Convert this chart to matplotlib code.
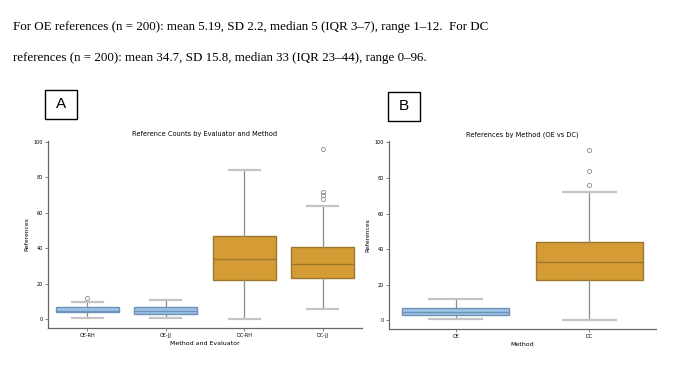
import matplotlib.pyplot as plt
from matplotlib.patches import Rectangle

# Panel A: references by evaluator and method
groups_a = ["OE-RH", "OE-JJ", "DC-RH", "DC-JJ"]
med_a = [5, 5, 34, 31]
q1_a = [4, 3, 22, 23.5]
q3_a = [7, 7, 47, 41]
lo_a = [1, 1, 0, 6]
hi_a = [10, 11, 84, 64]
fliers_a = [[12], [], [], [68, 70, 72, 96]]

# Panel B: references by method
groups_b = ["OE", "DC"]
med_b = [5, 33]
q1_b = [3, 23]
q3_b = [7, 44]
lo_b = [1, 0]
hi_b = [12, 72]
fliers_b = [[], [76, 84, 96]]

fill = {"OE": "#9dc4e6", "DC": "#d59c36"}
edge = {"OE": "#6f93b8", "DC": "#9c762c"}

caption = ["For OE references (n = 200): mean 5.19, SD 2.2, median 5 (IQR 3\u20137), range 1\u201312.  For DC",
           "references (n = 200): mean 34.7, SD 15.8, median 33 (IQR 23\u201344), range 0\u201396."]


def draw(ax, names, med, q1, q3, lo, hi, fl, title, xlabel):
    stats = []
    for i in range(len(names)):
        stats.append(dict(med=med[i], q1=q1[i], q3=q3[i], whislo=lo[i], whishi=hi[i], fliers=fl[i]))
    bp = ax.bxp(stats, positions=range(len(names)), widths=0.8, patch_artist=True,
                showcaps=True, capwidths=0.4,
                whiskerprops=dict(color="#8c8c8c", lw=0.9),
                capprops=dict(color="#c4c4c4", lw=1.6),
                flierprops=dict(marker="o", markersize=3, markerfacecolor="none",
                                markeredgecolor="#8c8c8c", markeredgewidth=0.6))
    for i, n in enumerate(names):
        key = n[:2]
        bp["boxes"][i].set_facecolor(fill[key])
        bp["boxes"][i].set_edgecolor(edge[key])
        bp["boxes"][i].set_linewidth(1.0)
        bp["medians"][i].set_color(edge[key])
        bp["medians"][i].set_linewidth(1.0)
    ax.set_xlim(-0.5, len(names) - 0.5)
    ax.set_ylim(-4.8, 100.8)
    ax.set_yticks([0, 20, 40, 60, 80, 100])
    ax.set_xticks(range(len(names)))
    ax.set_xticklabels(names)
    ax.tick_params(labelsize=3.5, length=2, width=0.5, color="#555555", pad=1.5)
    for s in ["top", "right"]:
        ax.spines[s].set_visible(False)
    for s in ["left", "bottom"]:
        ax.spines[s].set_color("#666666")
        ax.spines[s].set_linewidth(0.9)
    ax.set_title(title, fontsize=4.8, pad=3)
    ax.set_xlabel(xlabel, fontsize=4.5, labelpad=2)
    ax.set_ylabel("References", fontsize=4.3, labelpad=3)


fig = plt.figure(figsize=(6.85, 3.65), dpi=100)
for k, line in enumerate(caption):
    fig.text(13 / 685, 1 - (27 + 31 * k) / 365, line, fontsize=9.4,
             family="Liberation Serif", va="center", ha="left")

ax_a = fig.add_axes([48 / 685, 1 - 328 / 365, 314 / 685, 187.5 / 365])
draw(ax_a, groups_a, med_a, q1_a, q3_a, lo_a, hi_a, fliers_a,
     "Reference Counts by Evaluator and Method", "Method and Evaluator")
ax_b = fig.add_axes([389 / 685, 1 - 329 / 365, 267 / 685, 188 / 365])
draw(ax_b, groups_b, med_b, q1_b, q3_b, lo_b, hi_b, fliers_b,
     "References by Method (OE vs DC)", "Method")

# boxed panel letters
for x0, y0, letter in [(45, 90, "A"), (388, 92, "B")]:
    fig.patches.append(Rectangle((x0 / 685, 1 - (y0 + 29) / 365), 32 / 685, 29 / 365,
                                 transform=fig.transFigure, fill=False, lw=1.0, ec="black"))
    fig.text((x0 + 16) / 685, 1 - (y0 + 14.5) / 365, letter, fontsize=11,
             family="Liberation Sans", ha="center", va="center")

fig.savefig("out.png", dpi=100)
